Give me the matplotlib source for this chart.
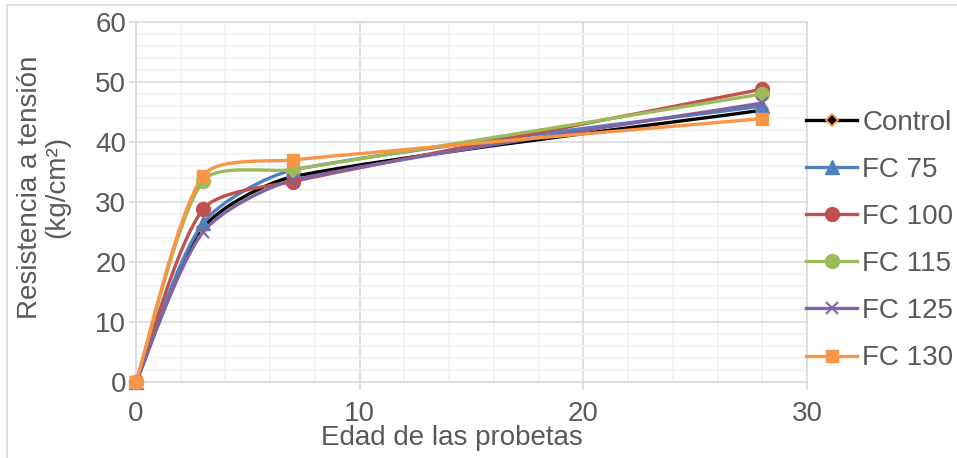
import matplotlib.pyplot as plt
import numpy as np
from matplotlib.path import Path
from matplotlib.patches import PathPatch, Rectangle
from matplotlib.lines import Line2D

plt.rcParams['font.family'] = ['Liberation Sans', 'DejaVu Sans']

edades = [0, 3, 7, 28]
series = ['Control', 'FC 75', 'FC 100', 'FC 115', 'FC 125', 'FC 130']
control = [0, 25.7, 34.2, 45.3]
fc75 = [0, 26.5, 35.3, 46.0]
fc100 = [0, 28.8, 33.4, 48.8]
fc115 = [0, 33.5, 35.4, 48.0]
fc125 = [0, 25.0, 33.6, 46.5]
fc130 = [0, 34.4, 37.0, 43.9]

estilos = [
    dict(color='black', marker='D', mfc='black', mec='#f79646', ms=6, mew=1.3),
    dict(color='#4f81bd', marker='^', mfc='#4f81bd', mec='#4f81bd', ms=10, mew=1),
    dict(color='#c0504d', marker='o', mfc='#c0504d', mec='#c0504d', ms=10, mew=1),
    dict(color='#9bbb59', marker='o', mfc='#9bbb59', mec='#9bbb59', ms=10, mew=1),
    dict(color='#8064a2', marker='x', mfc='#8064a2', mec='#8064a2', ms=9, mew=1.5),
    dict(color='#f79646', marker='s', mfc='#f79646', mec='#f79646', ms=9, mew=1),
]

# pixels per data unit, used so the smoothing works in screen space
SX, SY = 671 / 30, 360 / 60


def curva_suave(x, y):
    # Bezier segments with Catmull-Rom tangents, shortened so they never
    # reach too far into the neighbouring segment
    p = np.column_stack([np.asarray(x) * SX, np.asarray(y) * SY]).astype(float)
    n = len(p)
    verts = [p[0]]
    codes = [Path.MOVETO]
    for i in range(n - 1):
        d = np.linalg.norm(p[i + 1] - p[i])
        t1 = p[i + 1] - (p[i - 1] if i > 0 else p[i])
        t2 = (p[i + 2] if i + 2 < n else p[i + 1]) - p[i]
        l1, l2 = np.linalg.norm(t1), np.linalg.norm(t2)
        c1 = p[i] + t1 * min(1 / 6, d / (4 * l1)) if l1 > 0 else p[i]
        c2 = p[i + 1] - t2 * min(1 / 6, d / (4 * l2)) if l2 > 0 else p[i + 1]
        verts += [c1, c2, p[i + 1]]
        codes += [Path.CURVE4] * 3
    verts = np.array(verts) / [SX, SY]
    return Path(verts, codes)


fig = plt.figure(figsize=(9.57, 4.58), dpi=100)
fig.patches.append(Rectangle((7 / 957, -0.1), 1.2, 1 - 5 / 458 + 0.1, transform=fig.transFigure,
                             fill=False, edgecolor='#d9d9d9', lw=1.2))
ax = fig.add_axes([136 / 957, 1 - 382 / 458, (807 - 136) / 957, (382 - 22) / 458])

gris = '#595959'
for nombre, vals, st in zip(series, [control, fc75, fc100, fc115, fc125, fc130], estilos):
    ax.add_patch(PathPatch(curva_suave(edades, vals), fill=False, edgecolor=st['color'],
                           lw=2.4, capstyle='round', joinstyle='round', zorder=3))
    ax.plot(edades, vals, linestyle='none', marker=st['marker'], markerfacecolor=st['mfc'],
            markeredgecolor=st['mec'], markersize=st['ms'], markeredgewidth=st['mew'],
            zorder=4, clip_on=False)

ax.set_xlim(0, 30)
ax.set_ylim(0, 60)
ax.set_xticks([0, 10, 20, 30])
ax.set_yticks(range(0, 61, 10))
ax.set_xticks(np.arange(0, 31, 2), minor=True)
ax.set_yticks(np.arange(0, 61, 2), minor=True)
ax.grid(which='major', color='#d9d9d9', lw=1.2)
ax.grid(which='minor', color='#f2f2f2', lw=1.2)
ax.set_axisbelow(True)
for s in ax.spines.values():
    s.set_color('#d9d9d9')
    s.set_linewidth(1.2)
ax.tick_params(which='major', direction='out', length=6, color='#d9d9d9', width=1.2,
               labelsize=20, labelcolor=gris)
ax.tick_params(axis='x', pad=8)
ax.tick_params(axis='y', length=5, pad=2)
ax.tick_params(which='minor', length=0)

fig.text(452 / 957, 1 - 438 / 458, 'Edad de las probetas', fontsize=20, color=gris,
         ha='center', va='center')
fig.text(44 / 957, 1 - 187 / 458, 'Resistencia a tensión\n(kg/cm²)', fontsize=20, color=gris,
         ha='center', va='center', rotation=90, multialignment='center', linespacing=1.05)

handles = [Line2D([], [], color=st['color'], lw=2.4, marker=st['marker'],
                  markerfacecolor=st['mfc'], markeredgecolor=st['mec'],
                  markersize=st['ms'], markeredgewidth=st['mew']) for st in estilos]
fig.legend(handles, series, loc='center left', bbox_to_anchor=(806 / 957, 1 - 240.5 / 458),
           frameon=False, fontsize=20, labelcolor=gris, handlelength=1.85,
           handletextpad=0.18, labelspacing=0.76, borderpad=0, borderaxespad=0)

fig.savefig('out.png', dpi=100)
